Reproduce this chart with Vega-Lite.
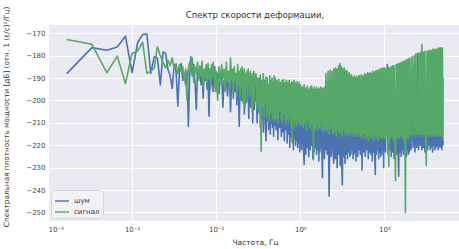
{
"$schema": "https://vega.github.io/schema/vega-lite/v6.json",
"width": 414, "height": 196,
"autosize": {"type": "none"},
"padding": {"left": 48, "top": 25, "right": 0, "bottom": 28},
"background": "white",
"title": {"text": "Спектр скорости деформации,", "fontSize": 8.5, "font": "DejaVu Sans", "fontWeight": "normal", "color": "#333333", "offset": 4, "dy": 17, "anchor": "middle", "frame": "group"},
"data": {"values": [
{"f":0.00167,"n":-188,"s":-172.8},{"f":0.00333,"n":-176.4,"s":-174.9},{"f":0.005,"n":-177.6,"s":-187.6},{"f":0.00667,"n":-176.1,"s":-180.2},{"f":0.00833,"n":-171.3,"s":-192.4},{"f":0.01,"n":-187.6,"s":-179},{"f":0.01167,"n":-174,"s":-177.9},{"f":0.01333,"n":-170.6,"s":-174},{"f":0.015,"n":-170.3,"s":-187.8},{"f":0.01667,"n":-187.9,"s":-187},{"f":0.01833,"n":-180.5,"s":-185.5},{"f":0.02,"n":-181,"s":-176},{"f":0.02167,"n":-193.1,"s":-180},{"f":0.02333,"n":-178.3,"s":-183},{"f":0.025,"n":-179,"s":-185.5},{"f":0.02667,"n":-186,"s":-182},{"f":0.02833,"n":-189,"s":-184.5},{"f":0.03,"n":-194.6,"s":-181},{"f":0.03167,"n":-184,"s":-186},{"f":0.03333,"n":-187,"s":-183.5},{"f":0.035,"n":-202.4,"s":-188},{"f":0.03667,"n":-186,"s":-184},{"f":0.03833,"n":-183.5,"s":-187},{"f":0.04,"n":-191,"s":-185},{"f":0.04167,"n":-188,"s":-190.5},{"f":0.04333,"n":-193,"s":-186},{"f":0.045,"n":-187,"s":-200},{"f":0.04667,"n":-211.6,"s":-185.5},{"f":0.04833,"n":-190,"s":-183},
{"f":0.05,"n":-180.5,"s":-186},{"f":0.052,"n":-189,"s":-181},{"f":0.054,"n":-184,"s":-192},{"f":0.056,"n":-192,"s":-185},{"f":0.058,"n":-204,"s":-188},{"f":0.06,"n":-186,"s":-183},{"f":0.062,"n":-190,"s":-191},{"f":0.064,"n":-185,"s":-184.5},{"f":0.066,"n":-193,"s":-189},{"f":0.068,"n":-188,"s":-182.5},{"f":0.07,"n":-199,"s":-194},{"f":0.072,"n":-187,"s":-186},{"f":0.074,"n":-191,"s":-190},{"f":0.076,"n":-186.5,"s":-184},{"f":0.078,"n":-195,"s":-192},{"f":0.08,"n":-189,"s":-183.5},{"f":0.082,"n":-207,"s":-190},{"f":0.084,"n":-190,"s":-186},{"f":0.086,"n":-186,"s":-195},{"f":0.088,"n":-193,"s":-184},{"f":0.09,"n":-188,"s":-189},{"f":0.092,"n":-196,"s":-183},{"f":0.094,"n":-189,"s":-191},{"f":0.096,"n":-185,"s":-187},{"f":0.098,"n":-194,"s":-196},
{"f":0.1,"n":-192,"s":-187},{"f":0.104,"n":-188,"s":-200},{"f":0.108,"n":-197,"s":-185},{"f":0.112,"n":-190,"s":-192},{"f":0.116,"n":-187,"s":-184},{"f":0.12,"n":-203,"s":-190},{"f":0.124,"n":-191,"s":-186},{"f":0.128,"n":-195,"s":-196},{"f":0.132,"n":-188,"s":-183},{"f":0.136,"n":-198,"s":-191},{"f":0.14,"n":-192,"s":-187},{"f":0.144,"n":-189,"s":-195},{"f":0.148,"n":-205,"s":-181},{"f":0.152,"n":-193,"s":-190},{"f":0.156,"n":-188,"s":-186},{"f":0.16,"n":-199,"s":-197},{"f":0.164,"n":-190,"s":-185},{"f":0.168,"n":-196,"s":-192},{"f":0.172,"n":-188,"s":-188},{"f":0.176,"n":-202,"s":-198},{"f":0.18,"n":-191,"s":-184},{"f":0.184,"n":-195,"s":-193},{"f":0.188,"n":-211.5,"s":-187},{"f":0.192,"n":-193,"s":-199},{"f":0.196,"n":-189,"s":-186},{"f":0.2,"n":-200,"s":-194},{"f":0.204,"n":-192,"s":-185},{"f":0.208,"n":-197,"s":-201},{"f":0.212,"n":-190,"s":-189},{"f":0.216,"n":-206,"s":-186},{"f":0.22,"n":-194,"s":-203},{"f":0.224,"n":-191,"s":-188},{"f":0.228,"n":-201,"s":-195},{"f":0.232,"n":-193,"s":-187},{"f":0.236,"n":-198,"s":-200},{"f":0.24,"n":-190,"s":-186},{"f":0.244,"n":-208,"s":-193},{"f":0.248,"n":-195,"s":-188},{"f":0.252,"n":-192,"s":-198},{"f":0.256,"n":-203,"s":-187},{"f":0.26,"n":-194,"s":-194},{"f":0.264,"n":-199,"s":-189},{"f":0.268,"n":-191,"s":-205},{"f":0.272,"n":-210,"s":-188},{"f":0.276,"n":-196,"s":-196},{"f":0.28,"n":-193,"s":-187},{"f":0.284,"n":-204,"s":-201},{"f":0.288,"n":-195,"s":-189},{"f":0.292,"n":-200,"s":-193},{"f":0.296,"n":-192,"s":-188},
{"f":0.3,"n":-196,"s":-189},{"f":0.307,"n":-210,"s":-204},{"f":0.314,"n":-192,"s":-190},{"f":0.321,"n":-205,"s":-199},{"f":0.328,"n":-190,"s":-206},{"f":0.335,"n":-212,"s":-188.5},{"f":0.342,"n":-195,"s":-222.7},{"f":0.349,"n":-208,"s":-191},{"f":0.356,"n":-193,"s":-203},{"f":0.363,"n":-214,"s":-188},{"f":0.37,"n":-198,"s":-207},{"f":0.377,"n":-191,"s":-192},{"f":0.384,"n":-211,"s":-201},{"f":0.391,"n":-218,"s":-189.5},{"f":0.398,"n":-196,"s":-208},{"f":0.405,"n":-209,"s":-190},{"f":0.412,"n":-194,"s":-205},{"f":0.419,"n":-213,"s":-193},{"f":0.426,"n":-199,"s":-209},{"f":0.433,"n":-192,"s":-189},{"f":0.44,"n":-215,"s":-206},{"f":0.447,"n":-197,"s":-191},{"f":0.454,"n":-210,"s":-204},{"f":0.461,"n":-193,"s":-190},{"f":0.468,"n":-212,"s":-208},{"f":0.475,"n":-200,"s":-192},{"f":0.482,"n":-216,"s":-205},{"f":0.489,"n":-195,"s":-189},{"f":0.496,"n":-211,"s":-209},
{"f":0.503,"n":-197,"s":-190},{"f":0.516,"n":-213,"s":-208},{"f":0.529,"n":-194,"s":-191},{"f":0.542,"n":-217.5,"s":-210},{"f":0.555,"n":-199,"s":-190.5},{"f":0.568,"n":-212,"s":-205},{"f":0.581,"n":-195,"s":-192},{"f":0.594,"n":-216,"s":-209},{"f":0.607,"n":-201,"s":-191},{"f":0.62,"n":-214,"s":-210},{"f":0.633,"n":-196,"s":-190.5},{"f":0.646,"n":-218,"s":-206},{"f":0.659,"n":-198,"s":-192},{"f":0.672,"n":-213,"s":-211},{"f":0.685,"n":-194,"s":-191},{"f":0.698,"n":-219,"s":-208},{"f":0.711,"n":-200,"s":-192},{"f":0.724,"n":-215,"s":-210},{"f":0.737,"n":-197,"s":-191},{"f":0.75,"n":-221,"s":-207},{"f":0.763,"n":-199,"s":-192.5},{"f":0.776,"n":-216,"s":-211},{"f":0.789,"n":-195,"s":-191.5},{"f":0.802,"n":-218,"s":-219},{"f":0.815,"n":-201,"s":-192},{"f":0.828,"n":-222,"s":-209},{"f":0.841,"n":-198,"s":-191},{"f":0.854,"n":-217,"s":-212},{"f":0.867,"n":-196,"s":-192},{"f":0.88,"n":-220,"s":-208},{"f":0.893,"n":-202,"s":-192.5},{"f":0.906,"n":-218,"s":-211},{"f":0.919,"n":-197,"s":-191.5},{"f":0.932,"n":-221,"s":-210},{"f":0.945,"n":-199,"s":-193},{"f":0.958,"n":-219,"s":-207},{"f":0.971,"n":-196,"s":-192},{"f":0.984,"n":-223,"s":-211},{"f":0.997,"n":-200,"s":-193},
{"f":1.01,"n":-198,"s":-193.5},{"f":1.035,"n":-222,"s":-211},{"f":1.06,"n":-201,"s":-194},{"f":1.085,"n":-219,"s":-212},{"f":1.11,"n":-228.5,"s":-193},{"f":1.135,"n":-199,"s":-210},{"f":1.16,"n":-224,"s":-194.5},{"f":1.185,"n":-203,"s":-213},{"f":1.21,"n":-221,"s":-193.5},{"f":1.235,"n":-200,"s":-209},{"f":1.26,"n":-225,"s":-195},{"f":1.285,"n":-198,"s":-212},{"f":1.31,"n":-222,"s":-194},{"f":1.335,"n":-204,"s":-213},{"f":1.36,"n":-220,"s":-193.5},{"f":1.385,"n":-199,"s":-210},{"f":1.41,"n":-226,"s":-195},{"f":1.435,"n":-202,"s":-226.4},{"f":1.46,"n":-223,"s":-194},{"f":1.485,"n":-200,"s":-212},{"f":1.51,"n":-221,"s":-195},{"f":1.535,"n":-205,"s":-213},{"f":1.56,"n":-224,"s":-194},{"f":1.585,"n":-198,"s":-211},{"f":1.61,"n":-222,"s":-195},{"f":1.635,"n":-203,"s":-213},{"f":1.66,"n":-227,"s":-194.5},{"f":1.685,"n":-200,"s":-212},{"f":1.71,"n":-223,"s":-195},{"f":1.735,"n":-204,"s":-210},{"f":1.76,"n":-221,"s":-194},{"f":1.785,"n":-199,"s":-213},{"f":1.81,"n":-225,"s":-195},{"f":1.835,"n":-234.5,"s":-212},{"f":1.86,"n":-202,"s":-194.5},{"f":1.885,"n":-223,"s":-214},{"f":1.91,"n":-200,"s":-195},{"f":1.935,"n":-226,"s":-211},{"f":1.96,"n":-203,"s":-194},{"f":1.985,"n":-222,"s":-213},
{"f":2.02,"n":-205,"s":-188},{"f":2.08,"n":-224,"s":-214},{"f":2.14,"n":-200,"s":-187},{"f":2.2,"n":-242.7,"s":-215},{"f":2.26,"n":-203,"s":-186.5},{"f":2.32,"n":-225,"s":-213},{"f":2.38,"n":-199,"s":-187},{"f":2.44,"n":-222,"s":-215},{"f":2.5,"n":-228,"s":-186},{"f":2.56,"n":-204,"s":-214},{"f":2.62,"n":-226,"s":-185.5},{"f":2.68,"n":-201,"s":-216},{"f":2.74,"n":-230,"s":-186},{"f":2.8,"n":-206,"s":-213},{"f":2.86,"n":-224,"s":-184.5},{"f":2.92,"n":-200,"s":-215},{"f":2.98,"n":-229,"s":-183.5},{"f":3.04,"n":-205,"s":-214},{"f":3.1,"n":-227,"s":-185},{"f":3.16,"n":-237.6,"s":-216},{"f":3.22,"n":-203,"s":-186},{"f":3.28,"n":-225,"s":-213},{"f":3.34,"n":-208,"s":-185.5},{"f":3.4,"n":-228,"s":-215},{"f":3.46,"n":-202,"s":-187},{"f":3.52,"n":-224,"s":-214},{"f":3.58,"n":-206,"s":-186.5},{"f":3.64,"n":-226,"s":-216},{"f":3.7,"n":-201,"s":-188},{"f":3.76,"n":-223,"s":-214},{"f":3.82,"n":-205,"s":-187.5},{"f":3.88,"n":-225,"s":-215},{"f":3.94,"n":-200,"s":-189},{"f":4.0,"n":-224,"s":-213},{"f":4.06,"n":-207,"s":-188.5},{"f":4.12,"n":-222,"s":-216},{"f":4.18,"n":-203,"s":-189.5},{"f":4.24,"n":-226,"s":-214},{"f":4.3,"n":-199,"s":-190},{"f":4.36,"n":-224,"s":-215},{"f":4.42,"n":-205,"s":-189},{"f":4.48,"n":-223,"s":-216},{"f":4.54,"n":-201,"s":-190},{"f":4.6,"n":-227,"s":-214},{"f":4.66,"n":-206,"s":-189.5},{"f":4.72,"n":-223,"s":-215},{"f":4.78,"n":-200,"s":-190},{"f":4.84,"n":-225,"s":-216},{"f":4.9,"n":-204,"s":-189},{"f":4.96,"n":-222,"s":-214},
{"f":5.05,"n":-203,"s":-189},{"f":5.175,"n":-224,"s":-216},{"f":5.3,"n":-200,"s":-188.5},{"f":5.425,"n":-231,"s":-217},{"f":5.55,"n":-205,"s":-189},{"f":5.675,"n":-223,"s":-215},{"f":5.8,"n":-199,"s":-188},{"f":5.925,"n":-225,"s":-217},{"f":6.05,"n":-204,"s":-188.5},{"f":6.175,"n":-222,"s":-216},{"f":6.3,"n":-201,"s":-187.5},{"f":6.425,"n":-226,"s":-218},{"f":6.55,"n":-206,"s":-188},{"f":6.675,"n":-223,"s":-215},{"f":6.8,"n":-200,"s":-187.5},{"f":6.925,"n":-224,"s":-217},{"f":7.05,"n":-203,"s":-188},{"f":7.175,"n":-227,"s":-216},{"f":7.3,"n":-199,"s":-187},{"f":7.425,"n":-223,"s":-217.5},{"f":7.55,"n":-205,"s":-187.5},{"f":7.675,"n":-225,"s":-215},{"f":7.8,"n":-233,"s":-187},{"f":7.925,"n":-202,"s":-217},{"f":8.05,"n":-224,"s":-186.5},{"f":8.175,"n":-200,"s":-216},{"f":8.3,"n":-222,"s":-187},{"f":8.425,"n":-206,"s":-218},{"f":8.55,"n":-226,"s":-186.5},{"f":8.675,"n":-201,"s":-215},{"f":8.8,"n":-223,"s":-186},{"f":8.925,"n":-204,"s":-217},{"f":9.05,"n":-225,"s":-186.5},{"f":9.175,"n":-199,"s":-216},{"f":9.3,"n":-224,"s":-185.5},{"f":9.425,"n":-203,"s":-217},{"f":9.55,"n":-222,"s":-186},{"f":9.675,"n":-205,"s":-215},{"f":9.8,"n":-230,"s":-185.5},{"f":9.925,"n":-201,"s":-217},
{"f":10.05,"n":-200,"s":-185.5},{"f":10.3,"n":-223,"s":-217},{"f":10.55,"n":-198,"s":-186},{"f":10.8,"n":-184,"s":-216},{"f":11.05,"n":-224,"s":-185},{"f":11.3,"n":-203,"s":-229.5},{"f":11.55,"n":-222,"s":-185.5},{"f":11.8,"n":-199,"s":-217},{"f":12.05,"n":-225,"s":-185},{"f":12.3,"n":-204,"s":-216},{"f":12.55,"n":-223,"s":-184.5},{"f":12.8,"n":-200,"s":-218},{"f":13.05,"n":-226,"s":-184.5},{"f":13.3,"n":-203,"s":-216},{"f":13.55,"n":-222,"s":-235.8},{"f":13.8,"n":-198,"s":-184},{"f":14.05,"n":-224,"s":-217},{"f":14.3,"n":-205,"s":-184},{"f":14.55,"n":-222,"s":-216},{"f":14.8,"n":-233.8,"s":-183.5},{"f":15.05,"n":-201,"s":-217},{"f":15.3,"n":-223,"s":-183.5},{"f":15.55,"n":-199,"s":-215},{"f":15.8,"n":-225,"s":-183},{"f":16.05,"n":-204,"s":-217},{"f":16.3,"n":-222,"s":-183},{"f":16.55,"n":-200,"s":-216},{"f":16.8,"n":-224,"s":-182.5},{"f":17.05,"n":-202,"s":-218},{"f":17.3,"n":-223,"s":-182.5},{"f":17.55,"n":-198,"s":-216},{"f":17.8,"n":-221,"s":-250},{"f":18.05,"n":-203,"s":-182},{"f":18.3,"n":-225,"s":-217},{"f":18.55,"n":-199,"s":-182},{"f":18.8,"n":-222,"s":-216},{"f":19.05,"n":-204,"s":-181.5},{"f":19.3,"n":-224,"s":-217},{"f":19.55,"n":-200,"s":-181.5},{"f":19.8,"n":-223,"s":-215},
{"f":20.1,"n":-199,"s":-181},{"f":20.7,"n":-222,"s":-216},{"f":21.3,"n":-196,"s":-180.5},{"f":21.9,"n":-221,"s":-215},{"f":22.5,"n":-200,"s":-180},{"f":23.1,"n":-223,"s":-216},{"f":23.7,"n":-197,"s":-179},{"f":24.3,"n":-221,"s":-215},{"f":24.9,"n":-179,"s":-215},{"f":25.5,"n":-222,"s":-179},{"f":26.1,"n":-198,"s":-216},{"f":26.7,"n":-220,"s":-178.5},{"f":27.3,"n":-201,"s":-215},{"f":27.9,"n":-222,"s":-175},{"f":28.5,"n":-197,"s":-216},{"f":29.1,"n":-221,"s":-178.5},{"f":29.7,"n":-200,"s":-215},{"f":30.3,"n":-223,"s":-178},{"f":30.9,"n":-196,"s":-216},{"f":31.5,"n":-221,"s":-229},{"f":32.1,"n":-199,"s":-178},{"f":32.7,"n":-222,"s":-215},{"f":33.3,"n":-201,"s":-178},{"f":33.9,"n":-220,"s":-216},{"f":34.5,"n":-197,"s":-177.5},{"f":35.1,"n":-222,"s":-215},{"f":35.7,"n":-200,"s":-178},{"f":36.3,"n":-221,"s":-216},{"f":36.9,"n":-198,"s":-177.5},{"f":37.5,"n":-223,"s":-215},{"f":38.1,"n":-201,"s":-177},{"f":38.7,"n":-220,"s":-216},{"f":39.3,"n":-197,"s":-177.5},{"f":39.9,"n":-222,"s":-214},{"f":40.5,"n":-199,"s":-177},{"f":41.1,"n":-221,"s":-216},{"f":41.7,"n":-200,"s":-177.5},{"f":42.3,"n":-220,"s":-215},{"f":42.9,"n":-198,"s":-177},{"f":43.5,"n":-222,"s":-216},{"f":44.1,"n":-196,"s":-176.5},{"f":44.7,"n":-221,"s":-215},{"f":45.3,"n":-200,"s":-177},{"f":45.9,"n":-220,"s":-216},{"f":46.5,"n":-198,"s":-176.5},{"f":47.1,"n":-221,"s":-215},{"f":47.7,"n":-199,"s":-177},{"f":48.3,"n":-222,"s":-216},{"f":48.9,"n":-197,"s":-176.5},{"f":49.5,"n":-220,"s":-215},{"f":49.95,"n":-218,"s":-190}
]},
"encoding": {
  "x": {"field": "f", "type": "quantitative",
    "scale": {"type": "log", "domain": [0.001, 83.7], "nice": false},
    "axis": {"values": [0.001, 0.01, 0.1, 1, 10],
      "labelExpr": "datum.value < 0.005 ? '10⁻³' : datum.value < 0.05 ? '10⁻²' : datum.value < 0.5 ? '10⁻¹' : datum.value < 5 ? '10⁰' : '10¹'",
      "title": "Частота, Гц", "labelPadding": 4, "titlePadding": 6}},
  "color": {"scale": {"domain": ["шум", "сигнал"], "range": ["#4C72B0", "#55A868"]},
    "legend": {"orient": "bottom-left", "offset": 3, "title": null, "symbolType": "stroke", "symbolSize": 196, "symbolStrokeWidth": 1.4,
      "labelFontSize": 7, "labelColor": "#333333", "fillColor": "#F2F2F6", "strokeColor": "#D6D6DE", "cornerRadius": 3, "padding": 3, "rowPadding": -4, "labelOffset": 4}}
},
"layer": [
  {"mark": {"type": "line", "strokeWidth": 1.6, "strokeJoin": "round", "clip": true},
   "encoding": {
     "y": {"field": "n", "type": "quantitative",
       "scale": {"domain": [-253.8, -166.3], "nice": false, "zero": false},
       "axis": {"values": [-250, -240, -230, -220, -210, -200, -190, -180, -170], "labelOverlap": false,
         "title": "Спектральная плотность мощности [дБ] (отн. 1 (ε/с)²/Гц)",
         "titleX": -42, "titleY": 91.5, "titleAngle": -90, "titleAlign": "center", "titleBaseline": "middle", "titleFontSize": 7.3, "labelPadding": 3}},
     "color": {"datum": "шум", "type": "nominal"}}},
  {"mark": {"type": "line", "strokeWidth": 1.6, "strokeJoin": "round", "clip": true},
   "encoding": {
     "y": {"field": "s", "type": "quantitative",
       "axis": {"values": [-250, -240, -230, -220, -210, -200, -190, -180, -170], "labelOverlap": false,
         "title": "Спектральная плотность мощности [дБ] (отн. 1 (ε/с)²/Гц)",
         "titleX": -42, "titleY": 91.5, "titleAngle": -90, "titleAlign": "center", "titleBaseline": "middle", "titleFontSize": 7.3, "labelPadding": 3}},
     "color": {"datum": "сигнал", "type": "nominal"}}}
],
"config": {
  "font": "DejaVu Sans",
  "view": {"fill": "#EAEAF2", "stroke": null},
  "axis": {"grid": true, "gridColor": "#FFFFFF", "gridWidth": 1, "gridOpacity": 1, "domain": false, "ticks": false, "labelOverlap": false,
    "labelFontSize": 7, "labelColor": "#444444", "titleFontSize": 7.5, "titleFontWeight": "normal", "titleColor": "#333333"}
}
}
